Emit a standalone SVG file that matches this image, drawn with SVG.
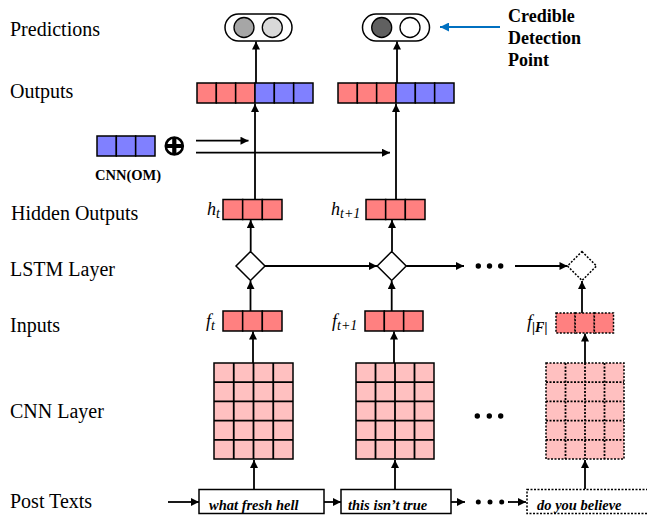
<svg xmlns="http://www.w3.org/2000/svg" width="647" height="518" viewBox="0 0 647 518">
  <defs>
    <marker id="arr" viewBox="0 0 10 10" refX="10" refY="5" markerWidth="9" markerHeight="8" markerUnits="userSpaceOnUse" orient="auto">
      <path d="M0,0 L10,5 L0,10 z" fill="#000"/>
    </marker>
    <marker id="arrBlue" viewBox="0 0 10 10" refX="10" refY="5" markerWidth="12" markerHeight="9" markerUnits="userSpaceOnUse" orient="auto">
      <path d="M0,0 L10,5 L0,10 z" fill="#0070C0"/>
    </marker>
  </defs>
  <style>
    .lbl { font-family: "Liberation Serif", "Times New Roman", serif; font-size: 20px; fill: #000; }
    .bold { font-family: "Liberation Serif", "Times New Roman", serif; font-weight: bold; fill: #000; }
    .it { font-family: "Liberation Serif", "Times New Roman", serif; font-style: italic; font-size: 18px; fill: #000; }
    .sub { font-size: 14px; }
    .post { font-family: "Liberation Serif", "Times New Roman", serif; font-style: italic; font-weight: bold; font-size: 14.5px; fill: #000; }
    .red { fill: #FF8080; stroke: #000; stroke-width: 1.5; }
    .blue { fill: #8080FF; stroke: #000; stroke-width: 1.5; }
    .pink { fill: #FFC0C0; stroke: #000; stroke-width: 1.5; }
    .dash { stroke-dasharray: 2 1.5; }
    .box { fill: #fff; stroke: #000; stroke-width: 1.5; }
    .ln { stroke: #000; stroke-width: 1.8; fill: none; }
    .dot { fill: #000; }
  </style>

  <rect width="647" height="518" fill="#fff"/>

  <!-- row labels -->
  <g id="row-labels">
    <text class="lbl" x="10" y="36">Predictions</text>
    <text class="lbl" x="10" y="98">Outputs</text>
    <text class="lbl" x="11" y="220">Hidden Outputs</text>
    <text class="lbl" x="10" y="276">LSTM Layer</text>
    <text class="lbl" x="10" y="332">Inputs</text>
    <text class="lbl" x="10" y="418">CNN Layer</text>
    <text class="lbl" x="10" y="508">Post Texts</text>
  </g>

  <!-- prediction pills -->
  <g id="pred-1">
    <rect class="box" x="225" y="14" width="67" height="27" rx="13.5"/>
    <circle cx="244" cy="27.5" r="10" fill="#A6A6A6" stroke="#000" stroke-width="1.3"/>
    <circle cx="272.3" cy="27.5" r="10" fill="#D9D9D9" stroke="#000" stroke-width="1.3"/>
  </g>
  <g id="pred-2">
    <rect class="box" x="362.5" y="14" width="67" height="27" rx="13.5"/>
    <circle cx="381.7" cy="27.5" r="10" fill="#606060" stroke="#000" stroke-width="1.3"/>
    <circle cx="410" cy="27.5" r="10" fill="#fff" stroke="#000" stroke-width="1.3"/>
  </g>
  <g id="credible-note">
    <text class="bold" font-size="18" x="508" y="22">Credible</text>
    <text class="bold" font-size="18" x="508" y="44">Detection</text>
    <text class="bold" font-size="18" x="508" y="66">Point</text>
  </g>

  <!-- output vectors -->
  <g id="out-1">
    <rect class="red" x="197" y="83" width="19.33" height="20"/>
    <rect class="red" x="216.33" y="83" width="19.33" height="20"/>
    <rect class="red" x="235.67" y="83" width="19.33" height="20"/>
    <rect class="blue" x="255" y="83" width="19.33" height="20"/>
    <rect class="blue" x="274.33" y="83" width="19.33" height="20"/>
    <rect class="blue" x="293.67" y="83" width="19.33" height="20"/>
  </g>
  <g id="out-2">
    <rect class="red" x="338" y="83" width="19.33" height="20"/>
    <rect class="red" x="357.33" y="83" width="19.33" height="20"/>
    <rect class="red" x="376.67" y="83" width="19.33" height="20"/>
    <rect class="blue" x="396" y="83" width="19.33" height="20"/>
    <rect class="blue" x="415.33" y="83" width="19.33" height="20"/>
    <rect class="blue" x="434.67" y="83" width="19.33" height="20"/>
  </g>

  <!-- CNN(OM) vector and concatenation sign -->
  <g id="cnn-om">
    <rect class="blue" x="97" y="136" width="19.33" height="20"/>
    <rect class="blue" x="116.33" y="136" width="19.33" height="20"/>
    <rect class="blue" x="135.67" y="136" width="19.33" height="20"/>
    <text class="bold" font-size="14.5" x="95" y="180" textLength="66">CNN(OM)</text>
  </g>
  <g id="concat">
    <circle cx="174.3" cy="146" r="8.5" fill="#fff" stroke="#000" stroke-width="2.6"/>
    <path d="M174.3,137.5 V154.5 M165.8,146 H182.8" stroke="#000" stroke-width="4.2"/>
  </g>

  <!-- hidden outputs -->
  <g id="hidden-1">
    <rect class="red" x="223" y="199.5" width="19.67" height="20"/>
    <rect class="red" x="242.67" y="199.5" width="19.67" height="20"/>
    <rect class="red" x="262.33" y="199.5" width="19.67" height="20"/>
    <text class="it" x="207" y="215">h<tspan class="sub" dy="3">t</tspan></text>
  </g>
  <g id="hidden-2">
    <rect class="red" x="366" y="199.5" width="19.67" height="20"/>
    <rect class="red" x="385.67" y="199.5" width="19.67" height="20"/>
    <rect class="red" x="405.33" y="199.5" width="19.67" height="20"/>
    <text class="it" x="331" y="215">h<tspan class="sub" dy="3">t+1</tspan></text>
  </g>

  <!-- LSTM cells -->
  <g id="lstm-1">
    <path class="box" d="M250.5,251.5 L265,266 L250.5,280.5 L236,266 z"/>
  </g>
  <g id="lstm-2">
    <path class="box" d="M391.7,251.5 L406.2,266 L391.7,280.5 L377.2,266 z"/>
  </g>
  <g id="lstm-n">
    <path class="box dash" d="M582,251.5 L596.5,266 L582,280.5 L567.5,266 z"/>
  </g>

  <!-- input features -->
  <g id="input-1">
    <rect class="red" x="223" y="311" width="19.67" height="20"/>
    <rect class="red" x="242.67" y="311" width="19.67" height="20"/>
    <rect class="red" x="262.33" y="311" width="19.67" height="20"/>
    <text class="it" x="206" y="327">f<tspan class="sub" dy="3">t</tspan></text>
  </g>
  <g id="input-2">
    <rect class="red" x="365" y="311" width="19.33" height="20"/>
    <rect class="red" x="384.33" y="311" width="19.33" height="20"/>
    <rect class="red" x="403.67" y="311" width="19.33" height="20"/>
    <text class="it" x="332" y="327">f<tspan class="sub" dy="3">t+1</tspan></text>
  </g>
  <g id="input-n">
    <rect class="red dash" x="556" y="313" width="19.17" height="20"/>
    <rect class="red dash" x="575.17" y="313" width="19.17" height="20"/>
    <rect class="red dash" x="594.33" y="313" width="19.17" height="20"/>
    <text class="it" x="527" y="328">f<tspan class="sub" font-weight="bold" dy="4">|F|</tspan></text>
  </g>

  <!-- CNN feature grids: 4 columns x 5 rows -->
  <g id="cnn-1">
    <rect class="pink" x="214" y="363" width="79" height="96"/>
    <path class="ln" stroke-width="1.5" d="M233.75,363 V459 M253.5,363 V459 M273.25,363 V459 M214,382.2 H293 M214,401.4 H293 M214,420.6 H293 M214,439.8 H293"/>
  </g>
  <g id="cnn-2">
    <rect class="pink" x="356" y="363" width="78" height="96"/>
    <path class="ln" stroke-width="1.5" d="M375.5,363 V459 M395,363 V459 M414.5,363 V459 M356,382.2 H434 M356,401.4 H434 M356,420.6 H434 M356,439.8 H434"/>
  </g>
  <g id="cnn-n">
    <rect class="pink dash" x="546" y="363" width="78" height="96"/>
    <path class="ln dash" stroke-width="1.5" d="M565.5,363 V459 M585,363 V459 M604.5,363 V459 M546,382.2 H624 M546,401.4 H624 M546,420.6 H624 M546,439.8 H624"/>
  </g>

  <!-- post texts -->
  <g id="post-1">
    <rect class="box" x="199" y="489.5" width="125" height="24"/>
    <text class="post" x="209" y="510">what fresh hell</text>
  </g>
  <g id="post-2">
    <rect class="box" x="341" y="489.5" width="110" height="24"/>
    <text class="post" x="348" y="510">this isn’t true</text>
  </g>
  <g id="post-n">
    <rect class="box dash" x="527" y="489.5" width="125" height="24"/>
    <text class="post" x="537" y="510">do you believe</text>
  </g>

  <!-- connectors -->
  <g id="connectors">
    <!-- column t -->
    <line class="ln" x1="254" y1="489" x2="254" y2="460" marker-end="url(#arr)"/>
    <line class="ln" x1="253" y1="363" x2="253" y2="331.5" marker-end="url(#arr)"/>
    <line class="ln" x1="250.5" y1="311" x2="250.5" y2="281" marker-end="url(#arr)"/>
    <line class="ln" x1="250.7" y1="251.5" x2="250.7" y2="220" marker-end="url(#arr)"/>
    <line class="ln" x1="255" y1="199.5" x2="255" y2="104" marker-end="url(#arr)"/>
    <line class="ln" x1="256" y1="83" x2="256" y2="41.5" marker-end="url(#arr)"/>
    <!-- column t+1 -->
    <line class="ln" x1="395" y1="489" x2="395" y2="460" marker-end="url(#arr)"/>
    <line class="ln" x1="394" y1="363" x2="394" y2="331.5" marker-end="url(#arr)"/>
    <line class="ln" x1="391.7" y1="311" x2="391.7" y2="281" marker-end="url(#arr)"/>
    <line class="ln" x1="392" y1="251.5" x2="392" y2="220" marker-end="url(#arr)"/>
    <line class="ln" x1="396" y1="199.5" x2="396" y2="104" marker-end="url(#arr)"/>
    <line class="ln" x1="397" y1="83" x2="397" y2="41.5" marker-end="url(#arr)"/>
    <!-- column |F| -->
    <line class="ln" x1="585" y1="489" x2="585" y2="460" marker-end="url(#arr)"/>
    <line class="ln" x1="585" y1="363" x2="585" y2="333.5" marker-end="url(#arr)"/>
    <line class="ln" x1="582" y1="313" x2="582" y2="281" marker-end="url(#arr)"/>
    <!-- recurrent links -->
    <line class="ln" x1="265" y1="266" x2="377" y2="266" marker-end="url(#arr)"/>
    <line class="ln" x1="406.2" y1="266" x2="464" y2="266" marker-end="url(#arr)"/>
    <circle class="dot" cx="478.3" cy="266" r="2.7"/>
    <circle class="dot" cx="489.5" cy="266" r="2.7"/>
    <circle class="dot" cx="500.7" cy="266" r="2.7"/>
    <line class="ln" x1="515" y1="266" x2="567.5" y2="266" marker-end="url(#arr)"/>
    <!-- ellipsis between CNN grids -->
    <circle class="dot" cx="477.3" cy="416" r="2.7"/>
    <circle class="dot" cx="489.3" cy="416" r="2.7"/>
    <circle class="dot" cx="500.7" cy="416" r="2.7"/>
    <!-- CNN(OM) concatenation into outputs -->
    <line class="ln" x1="196" y1="140.7" x2="248.5" y2="140.7" marker-end="url(#arr)"/>
    <line class="ln" x1="196" y1="152.7" x2="390" y2="152.7" marker-end="url(#arr)"/>
    <!-- post text sequence -->
    <line class="ln" x1="168" y1="502" x2="199" y2="502" marker-end="url(#arr)"/>
    <line class="ln" x1="324" y1="502" x2="341" y2="502" marker-end="url(#arr)"/>
    <line class="ln" x1="451" y1="502" x2="465" y2="502" marker-end="url(#arr)"/>
    <circle class="dot" cx="478.3" cy="502" r="2.5"/>
    <circle class="dot" cx="490" cy="502" r="2.5"/>
    <circle class="dot" cx="501.7" cy="502" r="2.5"/>
    <line class="ln" x1="508" y1="502" x2="526" y2="502" marker-end="url(#arr)"/>
    <!-- credible detection pointer -->
    <line x1="500" y1="27" x2="440" y2="27" stroke="#0070C0" stroke-width="2" marker-end="url(#arrBlue)"/>
  </g>
</svg>
